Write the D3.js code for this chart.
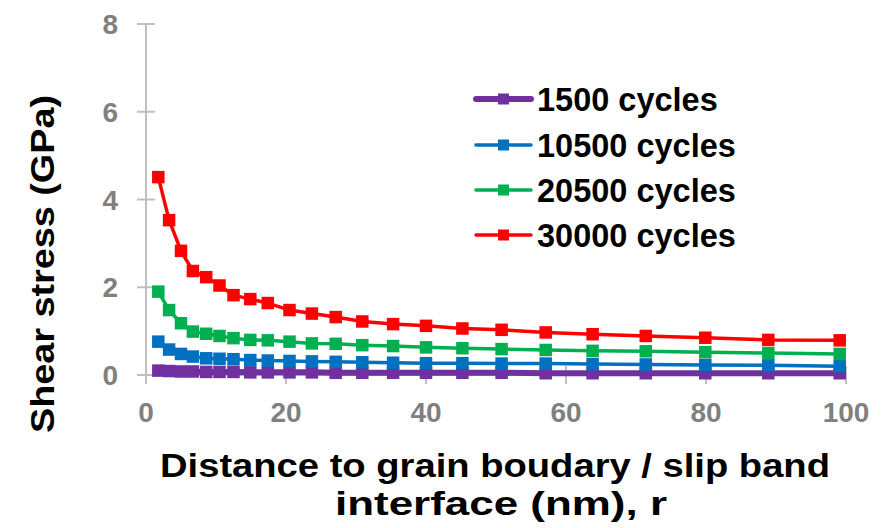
<!DOCTYPE html>
<html><head><meta charset="utf-8">
<script src="https://cdn.jsdelivr.net/npm/d3@7"></script>
<style>body{margin:0;background:#fff}svg{display:block}text{font-family:"Liberation Sans",Arial,sans-serif;font-weight:bold}</style>
</head><body>
<script>
const distances = [1.76,3.3,5.0,6.7,8.6,10.5,12.5,14.9,17.4,20.5,23.7,27.1,30.9,35.3,40.0,45.2,50.8,57.1,63.8,71.4,79.9,88.9,99.1];
const s1500  = [0.10,0.09,0.08,0.08,0.07,0.07,0.07,0.06,0.06,0.06,0.06,0.05,0.05,0.05,0.05,0.05,0.05,0.04,0.04,0.04,0.04,0.04,0.04];
const s10500 = [0.76,0.58,0.48,0.42,0.38,0.37,0.36,0.34,0.33,0.32,0.31,0.30,0.29,0.28,0.27,0.27,0.26,0.26,0.25,0.24,0.23,0.22,0.20];
const s20500 = [1.90,1.48,1.18,0.99,0.94,0.89,0.84,0.80,0.79,0.76,0.72,0.71,0.68,0.66,0.63,0.61,0.59,0.57,0.55,0.54,0.52,0.50,0.48];
const s30000 = [4.51,3.53,2.83,2.37,2.23,2.04,1.82,1.73,1.64,1.48,1.40,1.32,1.22,1.16,1.12,1.06,1.03,0.97,0.93,0.89,0.85,0.80,0.79];
const seriesNames = ["1500 cycles","10500 cycles","20500 cycles","30000 cycles"];
const seriesColors = ["#7030A0","#0070C0","#00B050","#FF0000"];
const xTicks = [0,20,40,60,80,100];
const yTicks = [0,2,4,6,8];
const xTitle1 = "Distance to grain boudary / slip band";
const xTitle2 = "interface (nm), r";
const yTitle = "Shear stress (GPa)";

const W = 889, H = 528;
const svg = d3.select("body").append("svg").attr("width", W).attr("height", H);
const x = d3.scaleLinear().domain([0,100]).range([146,846]);
const y = d3.scaleLinear().domain([0,8]).range([375,24]);
const axisColor = "#BFBFBF", labelColor = "#808080";

// y axis
svg.append("line").attr("x1",x(0)).attr("x2",x(0)).attr("y1",y(8)).attr("y2",y(0)).attr("stroke",axisColor).attr("stroke-width",2);
yTicks.forEach(t=>{
  svg.append("line").attr("x1",x(0)-9).attr("x2",x(0)+9).attr("y1",y(t)).attr("y2",y(t)).attr("stroke",axisColor).attr("stroke-width",2);
  svg.append("text").attr("x",118).attr("y",y(t)).attr("dy","0.36em").attr("text-anchor","end")
    .attr("font-size",28).attr("fill",labelColor).text(t);
});
// x axis
svg.append("line").attr("x1",x(0)-9).attr("x2",x(100)).attr("y1",y(0)).attr("y2",y(0)).attr("stroke",axisColor).attr("stroke-width",2);
xTicks.forEach(t=>{
  svg.append("line").attr("x1",x(t)).attr("x2",x(t)).attr("y1",y(0)-9).attr("y2",y(0)+9).attr("stroke",axisColor).attr("stroke-width",2);
  svg.append("text").attr("x",x(t)).attr("y",412).attr("dy","0.36em").attr("text-anchor","middle")
    .attr("font-size",28).attr("fill",labelColor).text(t);
});

// series
const allSeries = [s1500, s10500, s20500, s30000];
const lineWidths = [6,3.5,3.5,3.5];
const line = d3.line().x(d=>x(d[0])).y(d=>y(d[1]));
allSeries.forEach((vals,i)=>{
  const pts = distances.map((d,j)=>[d, vals[j]]);
  const g = svg.append("g");
  g.append("path").attr("d",line(pts)).attr("fill","none").attr("stroke",seriesColors[i]).attr("stroke-width",lineWidths[i]).attr("stroke-linejoin","round");
  const m = 12.5;
  g.selectAll("rect").data(pts).join("rect")
    .attr("x",d=>x(d[0])-m/2).attr("y",d=>y(d[1])-m/2).attr("width",m).attr("height",m)
    .attr("fill",seriesColors[i]);
});

// legend
const legY = [99, 145, 190, 235];
seriesNames.forEach((n,i)=>{
  const g = svg.append("g");
  g.append("line").attr("x1",476).attr("x2",531).attr("y1",legY[i]).attr("y2",legY[i])
    .attr("stroke",seriesColors[i]).attr("stroke-width",lineWidths[i]).attr("stroke-linecap","round");
  g.append("rect").attr("x",503.5-5.5).attr("y",legY[i]-5.5).attr("width",11).attr("height",11).attr("fill",seriesColors[i]);
  g.append("text").attr("x",537).attr("y",legY[i]).attr("dy","0.36em").attr("font-size",32.5).attr("fill","#000").text(n);
});

// axis titles
svg.append("text").attr("x",495).attr("y",477).attr("text-anchor","middle").attr("font-size",34)
  .attr("textLength",670).attr("lengthAdjust","spacingAndGlyphs").text(xTitle1);
svg.append("text").attr("x",501).attr("y",515).attr("text-anchor","middle").attr("font-size",34)
  .attr("textLength",332).attr("lengthAdjust","spacingAndGlyphs").text(xTitle2);
svg.append("text").attr("transform","translate(54,264) rotate(-90)").attr("text-anchor","middle").attr("font-size",34)
  .attr("textLength",338).attr("lengthAdjust","spacingAndGlyphs").text(yTitle);
</script>
</body></html>
